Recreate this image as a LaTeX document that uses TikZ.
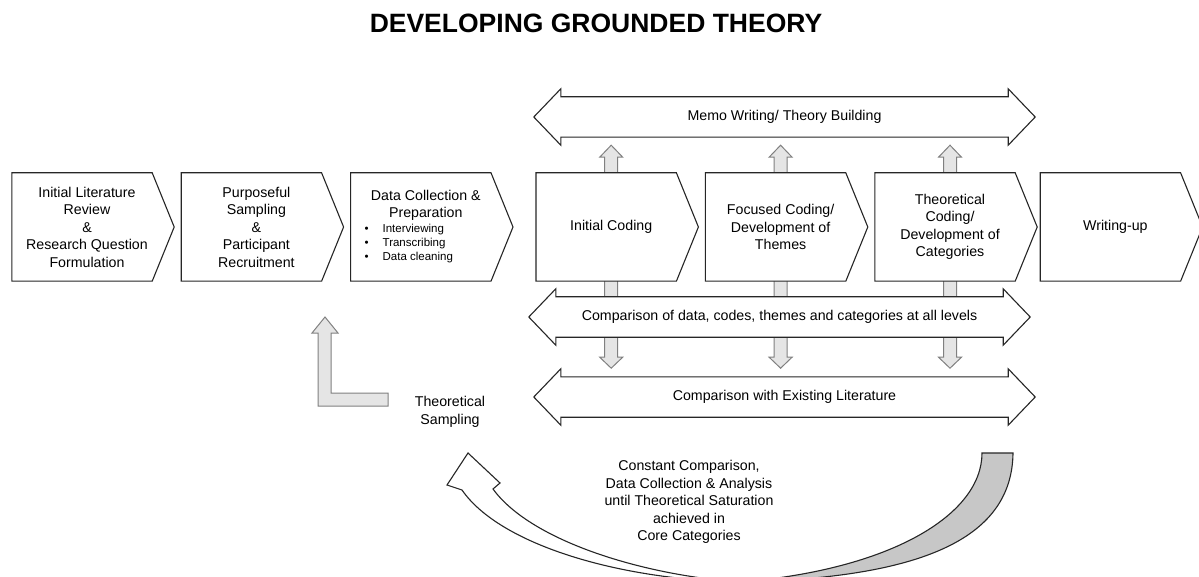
\documentclass[tikz,border=0pt]{standalone}
\usepackage{fontspec}
\setmainfont{Liberation Sans}
\usepackage{tikz}
\usetikzlibrary{positioning,calc}
\pgfdeclarelayer{back}
\pgfdeclarelayer{mid}
\pgfsetlayers{back,mid,main}

\begin{document}
\begin{tikzpicture}[
    x=1pt, y=-1pt,
    node distance=19pt and 19pt,
    stage/.style={minimum width=150pt, minimum height=108pt, inner sep=0pt, align=center, font=\fontsize{14.2}{17.5}\selectfont},
    band/.style={minimum width=447pt, minimum height=40pt, inner sep=0pt, font=\fontsize{14.2}{17.5}\selectfont},
    outline/.style={draw=black!85, line width=1.1pt, fill=white},
    gblock/.style={draw=black!50, line width=1pt, fill=black!10},
    note/.style={align=center, font=\fontsize{14.2}{17.5}\selectfont}
  ]
    \useasboundingbox (0,0) rectangle (1199,577);
    \node[anchor=base, font=\fontsize{26.5}{30}\selectfont\bfseries] (title) at (596,33) {DEVELOPING GROUNDED THEORY};

    \node[stage] (lit) at (87,227) {Initial Literature\\Review\\\&\\Research Question\\Formulation};
    \node[stage, right=of lit] (samp) {Purposeful\\Sampling\\\&\\Participant\\Recruitment};
    \node[stage, right=of samp] (dc) {Data Collection \&\\Preparation\\[-3pt]
      {\fontsize{11.5}{14}\selectfont\begin{tabular}[t]{@{}l@{\hspace{14pt}}l@{}}•&Interviewing\\•&Transcribing\\•&Data cleaning\end{tabular}}\hspace*{34pt}};
    \node[stage, right=35pt of dc] (ic) {Initial Coding};
    \node[stage, right=of ic] (fc) {Focused Coding/\\Development of\\Themes};
    \node[stage, right=of fc] (tc) {Theoretical\\Coding/\\Development of\\Categories};
    \node[stage, right=15pt of tc] (wu) {Writing-up};

    \node[band] (memo) at (784.5,117) {Memo Writing/ Theory Building};
    \node[band] (cdata) at (779.5,317) {Comparison of data, codes, themes and categories at all levels};
    \node[band] (clit) at (784.5,397) {Comparison with Existing Literature};

    \begin{pgfonlayer}{mid}
      \foreach \n in {lit,samp,dc,ic,fc,tc,wu}
        \draw[outline] (\n.north west) -- ([xshift=-10pt]\n.north east) -- ([xshift=12pt]\n.east) -- ([xshift=-10pt]\n.south east) -- (\n.south west) -- cycle;
      \foreach \n in {memo,cdata,clit}
        \draw[outline] (\n.north west) -- (\n.north east) -- ++(0,-8) -- ([xshift=27pt]\n.east) -- ($(\n.south east)+(0,8)$) -- (\n.south east) -- (\n.south west) -- ++(0,8) -- ([xshift=-27pt]\n.west) -- ($(\n.north west)+(0,-8)$) -- cycle;
    \end{pgfonlayer}

    % gray links behind the coding stages
    \begin{pgfonlayer}{back}
      \foreach \n in {ic,fc,tc}
        \draw[gblock] ($(\n.north |- memo.south)+(0,8)$) -- ++(11.5,12) -- ++(-5,0) -- ++(0,200) -- ++(5,0) -- ++(-11.5,11) -- ++(-11.5,-11) -- ++(5,0) -- ++(0,-200) -- ++(-5,0) -- cycle;
    \end{pgfonlayer}

    % theoretical sampling
    \draw[gblock] (325,317) -- (338,333) -- (331,333) -- (331,393) -- (388,393) -- (388,406) -- (318,406) -- (318,333) -- (312,333) -- cycle;
    \node[note] (tsamp) at (450,412) {Theoretical\\Sampling};

    % constant comparison loop
    \draw[outline, fill=black!22] (982,453) -- (1013,453) .. controls (1012,535) and (930,578) .. (740,582) .. controls (890,570) and (982,515) .. (982,453) -- cycle;
    \draw[outline] (740,582) .. controls (620,580) and (500,545) .. (462,490) -- (447,485) -- (468,453) -- (500,483) -- (493,489) .. controls (530,540) and (640,575) .. (740,582) -- cycle;
    \node[note] (cc) at (689,502) {Constant Comparison,\\Data Collection \& Analysis\\until Theoretical Saturation\\achieved in\\Core Categories};
\end{tikzpicture}
\end{document}
